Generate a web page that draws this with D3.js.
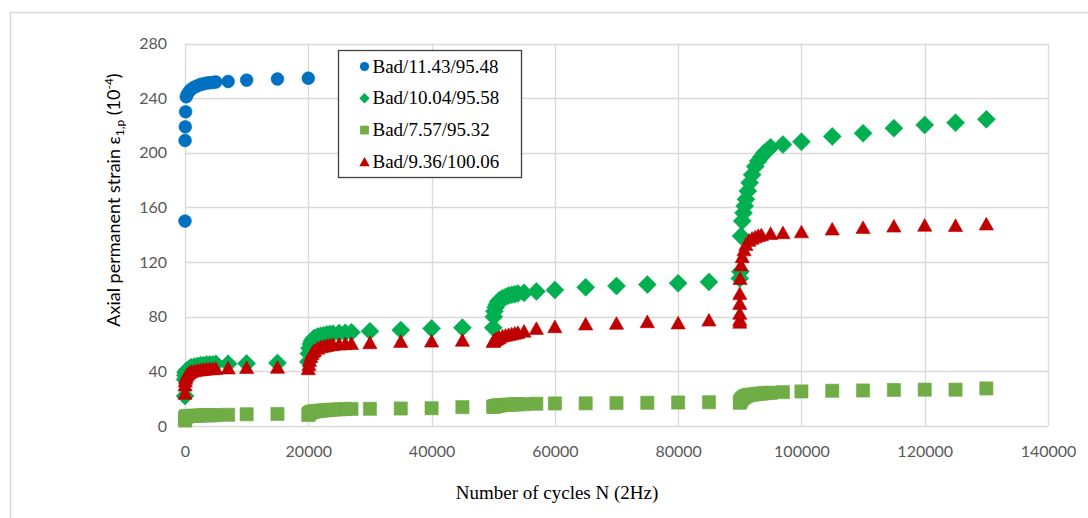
<!DOCTYPE html>
<html>
<head>
<meta charset="utf-8">
<script src="https://cdn.jsdelivr.net/npm/d3@7"></script>
<style>
  body { margin: 0; background: #fff; }
  .tick-label { font-family: Lato, 'Open Sans', sans-serif; font-size: 16px; fill: #595959; }
  .legend-text { font-family: 'Liberation Serif', 'Times New Roman', serif; font-size: 19px; fill: #000; }
</style>
</head>
<body>
<div id="chart"></div>
<script>
// Tick values
const xTicks = [0, 20000, 40000, 60000, 80000, 100000, 120000, 140000]
const yTicks = [0, 40, 80, 120, 160, 200, 240, 280]

// Loading stages (number of cycles)
const stage1N = [1, 10, 50, 100, 200, 400, 700, 1000, 1500, 2000, 2500, 3000, 3500, 4000, 4500, 5000, 7000, 10000, 15000]
const stage2N = [20000, 20100, 20200, 20400, 20600, 20800, 21000, 21500, 22000, 22500, 23000, 23500, 24000, 25000, 26000, 27000, 30000, 35000, 40000, 45000]
const stage3N = [50000, 50100, 50200, 50400, 50600, 50800, 51000, 51500, 52000, 52500, 53000, 53500, 54000, 55000, 57000, 60000, 65000, 70000, 75000, 80000, 85000]
const stage4N = [90000, 90100, 90200, 90400, 90600, 90800, 91000, 91300, 91600, 92000, 92500, 93000, 93500, 94000, 94500, 95000, 97000, 100000, 105000, 110000, 115000, 120000, 125000, 130000]
const stage4RedN = [90000, 90000, 90000, 90000, 90000, 90050, 90200, 90400, 90700, 91000, 91500, 92000, 92500, 93000, 93500, 95000, 97000, 100000, 105000, 110000, 115000, 120000, 125000, 130000]

// Bad/11.43/95.48 (single stage)
const blueN = [1, 10, 50, 100, 200, 400, 700, 1000, 1500, 2000, 2500, 3000, 3500, 4000, 4500, 5000, 7000, 10000, 15000, 20000]
const blueStrain = [150, 209, 219, 230, 241, 243, 245, 246.5, 248, 249, 250, 250.5, 251, 251.3, 251.5, 251.8, 252.2, 253.2, 254, 254.6]

// Bad/10.04/95.58
const greenStrain1 = [22, 34, 37, 39, 40, 41, 42, 43, 43.5, 44, 44.5, 44.5, 45, 45, 45, 45.5, 45.5, 45.8, 46.2]
const greenStrain2 = [47, 53, 57, 60, 62, 63.5, 64.5, 65.5, 66, 66.5, 67, 67.3, 67.6, 68, 68.3, 68.6, 69.3, 70.2, 71.3, 72]
const greenStrain3 = [72, 80, 84, 87, 89, 91, 92, 93.5, 94.5, 95.5, 96, 96.5, 97, 97.5, 98.5, 99.6, 101.5, 102.5, 103.5, 104.5, 105.5]
const greenStrain4 = [108, 113, 139, 150, 156, 161, 166, 172, 178, 184, 190, 194, 197, 200, 202, 204, 206, 208, 212, 214.3, 218, 220.4, 222, 224.5]

// Bad/7.57/95.32
const squareStrain1 = [4, 5.5, 6, 6.5, 7, 7.2, 7.3, 7.4, 7.5, 7.6, 7.7, 7.8, 7.8, 7.9, 8, 8, 8.2, 8.6, 8.8]
const squareStrain2 = [8, 9, 9.5, 10, 10.3, 10.6, 10.8, 11, 11.2, 11.4, 11.6, 11.8, 12, 12.2, 12.4, 12.5, 12.6, 12.8, 13, 13.8]
const squareStrain3 = [14, 14.2, 14.4, 14.6, 14.8, 15, 15.1, 15.3, 15.5, 15.6, 15.7, 15.8, 15.9, 16, 16.3, 16.5, 16.6, 16.8, 17, 17.2, 17.4]
const squareStrain4 = [17, 18, 19, 20, 20.8, 21.5, 22, 22.4, 22.8, 23, 23.3, 23.6, 23.8, 24, 24.2, 24.3, 24.8, 25.3, 25.8, 26, 26.4, 26.6, 26.6, 27.5]

// Bad/9.36/100.06
const redStrain1 = [24, 30, 33, 35, 36.5, 38, 39, 40, 40.5, 41, 41.2, 41.5, 41.8, 42, 42, 42.2, 42.5, 42.8, 43]
const redStrain2 = [42, 45, 48, 51, 53, 54.5, 55.5, 57, 58, 58.5, 59, 59.5, 59.8, 60, 60.3, 60.5, 61, 62, 62.2, 62.8]
const redStrain3 = [62, 62.5, 63, 63.5, 64, 64.5, 65, 66, 66.5, 67, 67.5, 68, 68.5, 69.5, 71.5, 72.7, 74.7, 75.2, 76.4, 75.5, 77.6]
const redStrain4 = [76, 78, 82.5, 89.8, 97, 108, 118, 124, 129, 133, 136, 137.5, 138.5, 139.5, 140, 141, 141.5, 142.2, 144.2, 145.3, 146.4, 147, 146.8, 147.9]

const seriesNames = ['Bad/11.43/95.48', 'Bad/10.04/95.58', 'Bad/7.57/95.32', 'Bad/9.36/100.06']

// Build series table from the arrays above
const zip = (ns, vs) => ns.map((n, i) => ({ n, v: vs[i] }))
const series = [
  { name: seriesNames[0], shape: 'circle', color: '#0070C0',
    points: zip(blueN, blueStrain) },
  { name: seriesNames[1], shape: 'diamond', color: '#00B050',
    points: zip([...stage1N, ...stage2N, ...stage3N, ...stage4N],
      [...greenStrain1, ...greenStrain2, ...greenStrain3, ...greenStrain4]) },
  { name: seriesNames[2], shape: 'square', color: '#70AD47',
    points: zip([...stage1N, ...stage2N, ...stage3N, ...stage4N],
      [...squareStrain1, ...squareStrain2, ...squareStrain3, ...squareStrain4]) },
  { name: seriesNames[3], shape: 'triangle', color: '#C00000',
    points: zip([...stage1N, ...stage2N, ...stage3N, ...stage4RedN],
      [...redStrain1, ...redStrain2, ...redStrain3, ...redStrain4]) },
]

const width = 1088
const height = 518
const plot = { left: 185, right: 1048, top: 43.5, bottom: 426 }

// Marker path for each shape, s = half size
function markerPath(shape, s) {
  if (shape === 'circle') {
    return `M${-s},0a${s},${s} 0 1,0 ${2 * s},0a${s},${s} 0 1,0 ${-2 * s},0Z`
  }
  if (shape === 'diamond') {
    return `M0,${-s}L${s},0L0,${s}L${-s},0Z`
  }
  if (shape === 'square') {
    return `M${-s},${-s}H${s}V${s}H${-s}Z`
  }
  // triangle
  return `M0,${-s}L${s * 1.08},${s * 0.92}L${-s * 1.08},${s * 0.92}Z`
}
const markerSize = { circle: 6.4, diamond: 9, square: 6.6, triangle: 6.6 }
const legendSize = { circle: 4.6, diamond: 5.2, square: 4.4, triangle: 4.8 }

const svg = d3
  .select('#chart')
  .append('svg')
  .attr('width', width)
  .attr('height', height)

// Chart area border
svg
  .append('rect')
  .attr('x', 10.5)
  .attr('y', 12.5)
  .attr('width', 1200)
  .attr('height', 600)
  .attr('fill', '#fff')
  .attr('stroke', '#d9d9d9')
  .attr('stroke-width', 1.5)

// Scales
const xScale = d3.scaleLinear().domain([0, 140000]).range([plot.left, plot.right])
const yScale = d3.scaleLinear().domain([0, 280]).range([plot.bottom, plot.top])

// Gridlines
svg
  .append('g')
  .selectAll('line')
  .data(yTicks)
  .enter()
  .append('line')
  .attr('x1', plot.left)
  .attr('x2', plot.right)
  .attr('y1', d => Math.round(yScale(d)) + 0.5)
  .attr('y2', d => Math.round(yScale(d)) + 0.5)
  .attr('stroke', '#d9d9d9')
  .attr('stroke-width', 1.3)

svg
  .append('g')
  .selectAll('line')
  .data(xTicks)
  .enter()
  .append('line')
  .attr('x1', d => Math.round(xScale(d)) + 0.5)
  .attr('x2', d => Math.round(xScale(d)) + 0.5)
  .attr('y1', plot.top)
  .attr('y2', plot.bottom)
  .attr('stroke', '#d9d9d9')
  .attr('stroke-width', 1.3)

// Axes (labels only, lines drawn as grid)
const xAxis = d3.axisBottom(xScale).tickValues(xTicks).tickSize(0).tickPadding(20).tickFormat(d3.format('d'))
const yAxis = d3.axisLeft(yScale).tickValues(yTicks).tickSize(0).tickPadding(18).tickFormat(d3.format('d'))

const xAxisG = svg.append('g').attr('transform', `translate(0,${plot.bottom})`).call(xAxis)
const yAxisG = svg.append('g').attr('transform', `translate(${plot.left},0)`).call(yAxis)
;[xAxisG, yAxisG].forEach(g => {
  g.select('.domain').remove()
  g.selectAll('text').attr('class', 'tick-label').attr('fill', null)
})

// Markers
series.forEach(s => {
  svg
    .append('g')
    .selectAll('path')
    .data(s.points)
    .enter()
    .append('path')
    .attr('transform', d => `translate(${xScale(d.n)},${yScale(d.v)})`)
    .attr('d', markerPath(s.shape, markerSize[s.shape]))
    .attr('fill', s.color)
    .attr('stroke', s.color)
    .attr('stroke-width', 0.6)
    .attr('stroke-linejoin', 'round')
})

// Axis titles
svg
  .append('text')
  .attr('x', 557)
  .attr('y', 499)
  .attr('text-anchor', 'middle')
  .attr('font-family', "'Liberation Serif', 'Times New Roman', serif")
  .attr('font-size', 19)
  .attr('fill', '#000')
  .text('Number of cycles N (2Hz)')

const yTitle = svg
  .append('text')
  .attr('transform', 'translate(120,200) rotate(-90)')
  .attr('text-anchor', 'middle')
  .attr('font-family', "Lato, 'Open Sans', sans-serif")
  .attr('font-size', 18)
  .attr('fill', '#000')
yTitle.append('tspan').text('Axial permanent strain ε')
yTitle.append('tspan').attr('font-size', 12).attr('dy', 4).text('1,p')
yTitle.append('tspan').attr('dy', -4).text(' (10')
yTitle.append('tspan').attr('font-size', 12).attr('dy', -7).text('-4')
yTitle.append('tspan').attr('dy', 7).text(')')

// Legend
const legend = svg.append('g').attr('transform', 'translate(338.5,50.5)')
legend
  .append('rect')
  .attr('width', 183)
  .attr('height', 127)
  .attr('fill', '#fff')
  .attr('stroke', '#404040')
  .attr('stroke-width', 1.3)

const rows = legend
  .selectAll('.legend-row')
  .data(series)
  .enter()
  .append('g')
  .attr('class', 'legend-row')
  .attr('transform', (d, i) => `translate(0,${16 + i * 31.8})`)

rows
  .append('path')
  .attr('transform', 'translate(26,0)')
  .attr('d', d => markerPath(d.shape, legendSize[d.shape]))
  .attr('fill', d => d.color)

rows
  .append('text')
  .attr('class', 'legend-text')
  .attr('x', 34)
  .attr('y', 6)
  .text(d => d.name)
</script>
</body>
</html>
